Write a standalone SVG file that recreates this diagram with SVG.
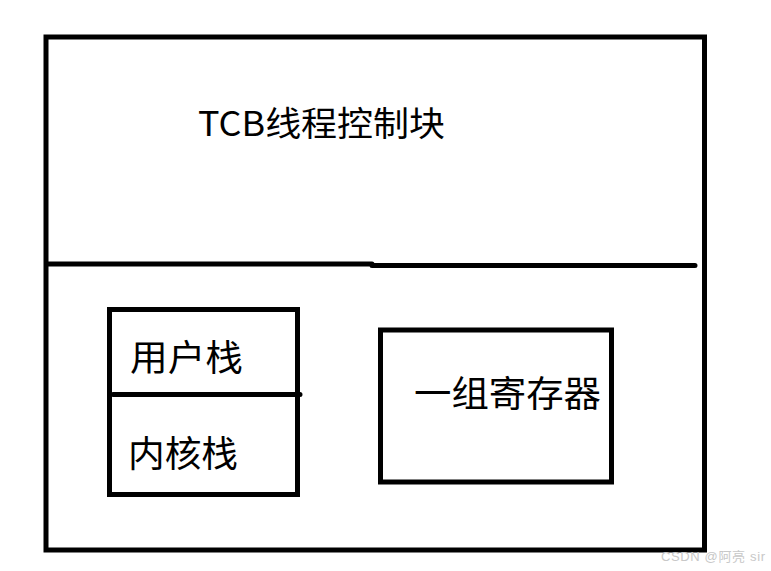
<svg xmlns="http://www.w3.org/2000/svg" width="771" height="571" viewBox="0 0 771 571">
<style>
.box{fill:none;stroke:#000;stroke-width:5;}
.ln{stroke:#000;stroke-width:5;stroke-linecap:round;fill:none;}
.lbl{font-family:"Microsoft YaHei","Noto Sans CJK SC","Noto Sans",sans-serif;font-size:36px;fill:#000;dominant-baseline:central;}
.wm{font-family:"Liberation Sans","Noto Sans CJK SC",sans-serif;font-size:13px;fill:#c8c8c8;}
</style>
<rect width="771" height="571" fill="#fff"/>
<g id="tcb">
<rect class="box" x="46" y="37" width="658.5" height="513"/>
<text class="lbl" x="198" y="121" textLength="247" lengthAdjust="spacingAndGlyphs" style="font-size:34px">TCB线程控制块</text>
</g>
<g id="connectors">
<path class="ln" d="M48 264 L372 264 M372 265.5 L695 265.5"/>
<path class="ln" d="M113 394.5 L207 394.5 M207 394.5 L300 394.5"/>
</g>
<g id="stack">
<rect class="box" x="109.5" y="309.5" width="188" height="185"/>
<text class="lbl" x="130" y="355" textLength="113" lengthAdjust="spacingAndGlyphs">用户栈</text>
<text class="lbl" x="128" y="451" textLength="110" lengthAdjust="spacingAndGlyphs">内核栈</text>
</g>
<g id="registers">
<rect class="box" x="380.5" y="330" width="231" height="152"/>
<text class="lbl" x="414" y="391" textLength="187" lengthAdjust="spacingAndGlyphs">一组寄存器</text>
</g>
<text class="wm" x="661" y="561" textLength="104" lengthAdjust="spacing">CSDN @阿亮 sir</text>
</svg>
